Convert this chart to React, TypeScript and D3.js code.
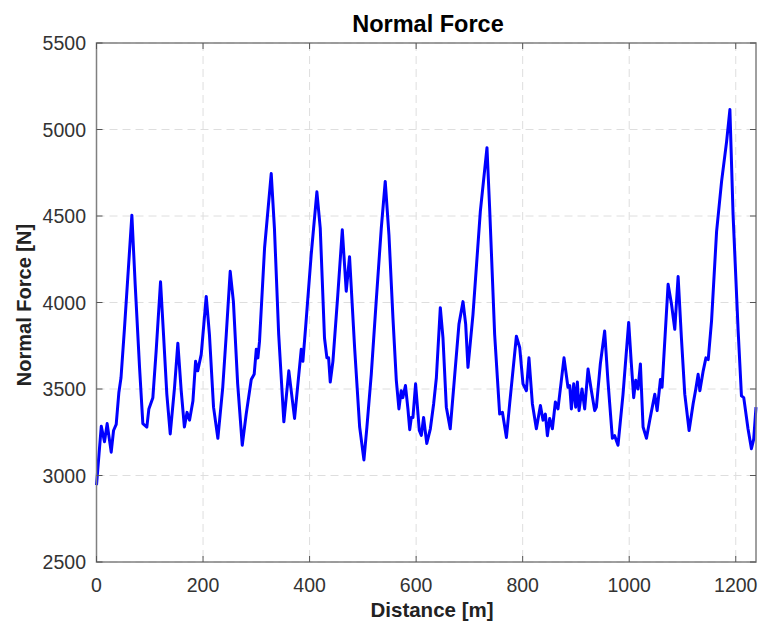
import React from "react";
import * as d3 from "d3";

const distance: number[] = [
  0, 9, 15, 20, 27.6, 32, 37, 42, 46, 52.6, 66.4, 72.6, 80.8, 87, 94.5, 98.3, 105.8, 112, 120.2, 125.8,
  132, 138.4, 146.5, 152.7, 159, 165, 170, 174.6, 181, 186, 190, 196.6, 206, 212, 219.7, 227.8, 237, 243.6, 251, 257,
  265, 273.6, 281, 290.5, 296, 300, 303, 306, 315.5, 328, 334, 342, 351.7, 361, 371.8, 384.4, 387.4, 392.5, 403, 413.7,
  420, 428, 432.5, 435.7, 438.8, 443.8, 453, 461.4, 468.8, 475, 484.5, 494, 502, 507.6, 515.8, 525, 534.6, 542, 549, 556.5,
  562.8, 567.7, 572, 575, 580, 584.6, 588, 591, 594, 599, 606, 609.8, 614, 620, 626.7, 632.9, 638, 645.4, 650.4, 656.7,
  664, 672, 680.4, 688, 693, 697.3, 706.7, 720.5, 733, 738, 747.4, 756.8, 762, 769.5, 775.6, 788.2, 794.4, 800.6, 807, 811.8,
  818.2, 825.7, 833.3, 838.2, 842.6, 846.4, 850.7, 855.8, 861.4, 866.3, 877.6, 885, 888.3, 891.4, 895.8, 899.5, 902.7, 905.8, 911.4, 916.4,
  922.7, 929, 935.2, 938.4, 945.8, 953.9, 960, 968.4, 972.7, 979, 988.4, 999, 1004, 1008.4, 1012.2, 1016.5, 1021, 1026, 1032.4, 1038.5,
  1048, 1052.4, 1058.6, 1061.7, 1073, 1079.4, 1085.5, 1091.8, 1098, 1104.3, 1112.4, 1120, 1125, 1129.4, 1132.6, 1138.9, 1144, 1148.3, 1154.6, 1164,
  1173.4, 1182.8, 1189, 1195, 1204.5, 1210.7, 1215, 1223, 1229.4, 1233.7, 1238,
];

const normalForce: number[] = [
  2945, 3285, 3195, 3300, 3135, 3260, 3295, 3480, 3565, 3855, 4505, 4105, 3625, 3300, 3280, 3385, 3450, 3720, 4120, 3815,
  3470, 3240, 3510, 3765, 3490, 3280, 3365, 3320, 3430, 3660, 3605, 3700, 4035, 3815, 3395, 3215, 3510, 3815, 4180, 4005,
  3530, 3175, 3355, 3555, 3585, 3730, 3680, 3775, 4315, 4745, 4430, 3815, 3310, 3605, 3330, 3730, 3660, 3855, 4275, 4640,
  4430, 3795, 3680, 3680, 3540, 3660, 4045, 4420, 4065, 4265, 3740, 3280, 3090, 3280, 3585, 4005, 4430, 4700, 4390, 3910,
  3550, 3385, 3490, 3450, 3520, 3385, 3265, 3335, 3335, 3530, 3260, 3232, 3335, 3185, 3270, 3415, 3565, 3970, 3795, 3395,
  3270, 3565, 3875, 4005, 3875, 3625, 3930, 4525, 4895, 4545, 3815, 3355, 3365, 3220, 3415, 3805, 3740, 3530, 3490, 3680,
  3415, 3270, 3405, 3320, 3355, 3230, 3330, 3270, 3425, 3385, 3680, 3510, 3520, 3385, 3530, 3395, 3540, 3375, 3500, 3385,
  3615, 3490, 3375, 3395, 3645, 3835, 3550, 3215, 3230, 3175, 3470, 3885, 3645, 3450, 3550, 3500, 3645, 3280, 3215, 3320,
  3470, 3375, 3555, 3510, 4105, 3990, 3845, 4150, 3795, 3470, 3260, 3415, 3500, 3585, 3490, 3605, 3680, 3670, 3895, 4410,
  4700, 4930, 5115, 4505, 3835, 3460, 3450, 3270, 3155, 3210, 3395,
];

const xTicks: number[] = [0, 200, 400, 600, 800, 1000, 1200];
const yTicks: number[] = [2500, 3000, 3500, 4000, 4500, 5000, 5500];

const W = 762;
const H = 628;
const left = 96.5;
const right = 756;
const top = 43;
const bottom = 562;

export default function App() {
  const x = d3.scaleLinear().domain([0, 1238]).range([left, right]);
  const y = d3.scaleLinear().domain([2500, 5500]).range([bottom, top]);
  const pts = distance.map((d, i) => [d, normalForce[i]] as [number, number]);
  const line = d3
    .line<[number, number]>()
    .x((d) => x(d[0]))
    .y((d) => y(d[1]));

  const font = "'Liberation Sans', Arial, Helvetica, sans-serif";
  const tickLen = 6;

  return (
    <svg
      width={W}
      height={H}
      style={{ position: "absolute", left: 0, top: 0, background: "#fff" }}
      fontFamily={font}
    >
      <rect x={0} y={0} width={W} height={H} fill="#fff" />
      {xTicks.map((t) => (
        <line
          key={"gx" + t}
          x1={x(t)}
          x2={x(t)}
          y1={top}
          y2={bottom}
          stroke="#dedede"
          strokeWidth={1}
          strokeDasharray="8,5"
        />
      ))}
      {yTicks.map((t) => (
        <line
          key={"gy" + t}
          x1={left}
          x2={right}
          y1={y(t)}
          y2={y(t)}
          stroke="#dedede"
          strokeWidth={1}
          strokeDasharray="8,5"
        />
      ))}
      <path d={line(pts) || ""} fill="none" stroke="#0000ff" strokeWidth={3} strokeLinejoin="round" />
      <rect x={left} y={top} width={right - left} height={bottom - top} fill="none" stroke="#808080" strokeWidth={1.5} />
      {xTicks.map((t) => (
        <g key={"tx" + t}>
          <line x1={x(t)} x2={x(t)} y1={bottom} y2={bottom - tickLen} stroke="#555" strokeWidth={1} />
          <line x1={x(t)} x2={x(t)} y1={top} y2={top + tickLen} stroke="#555" strokeWidth={1} />
          <text x={x(t)} y={592} textAnchor="middle" fontSize={19.5} fill="#333">
            {t}
          </text>
        </g>
      ))}
      {yTicks.map((t) => (
        <g key={"ty" + t}>
          <line x1={left} x2={left + tickLen} y1={y(t)} y2={y(t)} stroke="#555" strokeWidth={1} />
          <line x1={right} x2={right - tickLen} y1={y(t)} y2={y(t)} stroke="#555" strokeWidth={1} />
          <text x={86} y={y(t) + 7} textAnchor="end" fontSize={19.5} fill="#333">
            {t}
          </text>
        </g>
      ))}
      <text x={428} y={32} textAnchor="middle" fontSize={23.5} fontWeight="bold" fill="#000">
        Normal Force
      </text>
      <text x={432} y={617} textAnchor="middle" fontSize={20.5} fontWeight="bold" fill="#222">
        Distance [m]
      </text>
      <text
        transform={`translate(31, 305) rotate(-90)`}
        textAnchor="middle"
        fontSize={20}
        fontWeight="bold"
        fill="#222"
      >
        Normal Force [N]
      </text>
    </svg>
  );
}
